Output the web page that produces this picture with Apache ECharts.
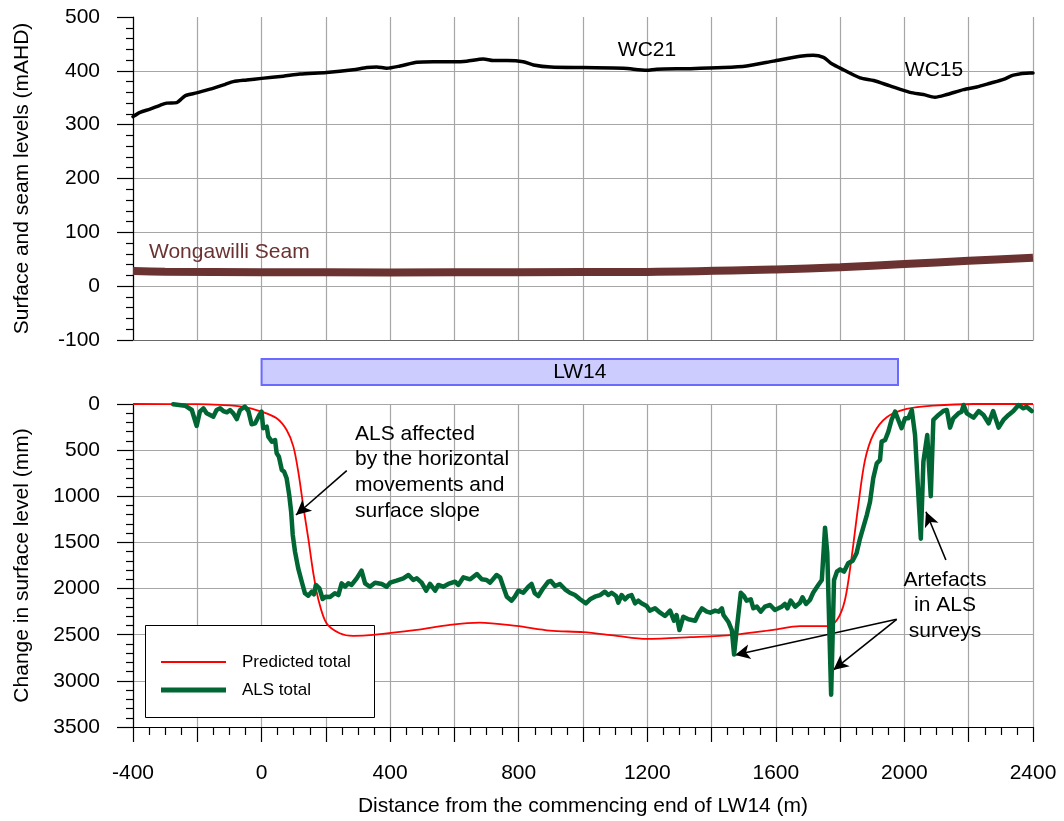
<!DOCTYPE html>
<html>
<head>
<meta charset="utf-8">
<script src="https://cdn.jsdelivr.net/npm/echarts@6/dist/echarts.min.js"></script>
<style>
  html, body { margin: 0; padding: 0; background: #fff; }
  #chart { width: 1064px; height: 821px; }
</style>
</head>
<body>
<div id="chart"></div>
<script>
// Surface profile along the LW14 centreline (distance m, level mAHD)
const surfaceProfile = [
  [-400,315],[-378,323],[-347,329],[-316,336],[-295,340],[-264,341],[-237,354],[-202,359],
  [-160,366],[-113,375],[-88,380],[-46,383],[0,386],[67,390],[119,394],[202,397],[285,402],
  [327,406],[358,407],[389,405],[431,409],[483,416],[535,417],[597,417],[638,418],[690,422],
  [721,419],[763,419],[814,417],[846,411],[900,407],[1001,406],[1126,405],[1198,401],
  [1229,403],[1334,404],[1437,406],[1509,409],[1592,418],[1675,427],[1716,429],[1748,425],
  [1774,413],[1810,402],[1862,387],[1904,382],[1955,372],[2017,360],[2059,356],[2095,351],
  [2132,356],[2184,365],[2225,370],[2267,377],[2308,384],[2339,392],[2391,396],[2400,396]
];

// Wongawilli Seam floor level (mAHD)
const seamProfile = [
  [-400,28],[-300,27],[0,26],[400,25.5],[800,26],[1200,26.5],[1600,31],[1800,35],
  [2000,41],[2200,47],[2400,53]
];

// Predicted total subsidence (mm)
const predictedTotal = [
  [-400,0],[-200,2],[-130,10],[-57,30],[0,83],[47,155],[78,282],[99,462],[115,751],
  [130,1112],[146,1473],[161,1834],[177,2123],[202,2376],[243,2484],[285,2513],[347,2502],
  [482,2448],[586,2394],[679,2369],[793,2405],[897,2455],[1001,2473],[1100,2510],
  [1198,2545],[1334,2527],[1467,2502],[1592,2448],[1675,2408],[1758,2408],[1789,2347],
  [1815,2123],[1836,1654],[1856,1112],[1877,614],[1904,325],[1945,144],[2007,54],
  [2090,18],[2215,0],[2400,0]
];

// Total subsidence measured by airborne laser scanning (mm)
const alsTotal = [
  [-275,3],[-238,18],[-217,65],[-202,238],[-192,83],[-181,47],[-171,101],[-150,137],
  [-140,65],[-129,47],[-119,76],[-108,90],[-98,65],[-88,101],[-77,163],[-67,65],[-52,29],
  [-41,76],[-31,220],[-20,209],[-7,119],[0,83],[5,263],[16,246],[21,354],[32,408],[42,390],
  [47,534],[54,571],[63,715],[70,733],[78,805],[86,986],[92,1167],[97,1419],[104,1600],
  [114,1781],[125,1926],[135,2051],[145,2077],[156,2034],[163,2062],[169,1961],[180,1997],
  [190,2113],[200,2088],[213,2092],[228,2051],[239,2070],[249,1943],[260,1980],[270,1943],
  [280,1961],[296,1889],[311,1806],[322,1943],[337,1980],[353,1936],[374,1950],[389,1980],
  [400,1936],[420,1914],[441,1889],[457,1853],[472,1907],[483,1889],[498,1936],[512,2023],
  [524,1950],[540,2023],[550,1961],[565,1980],[581,1950],[602,1925],[612,1961],[628,1878],
  [649,1900],[670,1842],[685,1900],[700,1907],[711,1936],[731,1853],[742,1878],[752,1980],
  [763,2088],[778,2131],[788,2088],[799,2023],[814,2045],[830,1980],[840,1950],[850,2051],
  [861,2081],[876,1997],[892,1925],[900,1918],[913,1972],[928,1950],[944,2008],[959,2045],
  [975,2070],[991,2116],[1009,2160],[1022,2116],[1037,2088],[1053,2070],[1068,2034],
  [1079,2070],[1089,2045],[1103,2081],[1110,2153],[1120,2070],[1131,2116],[1141,2081],
  [1151,2070],[1162,2160],[1172,2131],[1182,2160],[1198,2189],[1208,2239],[1224,2214],
  [1240,2261],[1255,2297],[1271,2239],[1283,2348],[1291,2286],[1300,2449],[1312,2305],
  [1328,2333],[1349,2348],[1359,2276],[1370,2214],[1385,2250],[1396,2261],[1411,2239],
  [1422,2250],[1432,2214],[1437,2286],[1452,2359],[1463,2449],[1470,2715],[1478,2449],
  [1491,2045],[1501,2081],[1509,2131],[1522,2116],[1530,2214],[1541,2196],[1553,2250],
  [1566,2196],[1582,2178],[1597,2232],[1608,2214],[1618,2196],[1628,2167],[1636,2214],
  [1646,2131],[1660,2196],[1675,2153],[1683,2095],[1694,2167],[1706,2124],[1716,2045],
  [1732,1961],[1743,1907],[1753,1340],[1760,1618],[1772,3150],[1781,1907],[1790,1817],
  [1800,1792],[1812,1817],[1825,1726],[1839,1698],[1851,1618],[1862,1455],[1883,1203],
  [1893,1059],[1903,805],[1914,643],[1924,607],[1929,408],[1940,390],[1950,300],[1960,173],
  [1971,83],[1981,173],[1991,263],[2002,155],[2012,155],[2023,65],[2033,336],[2041,841],
  [2051,1460],[2059,625],[2071,336],[2082,1000],[2090,173],[2106,119],[2121,76],[2132,65],
  [2142,256],[2152,155],[2168,101],[2178,83],[2184,11],[2194,101],[2215,148],[2231,76],
  [2246,119],[2262,209],[2276,76],[2293,256],[2308,173],[2324,119],[2339,76],[2355,11],
  [2370,47],[2380,29],[2396,76]
];

// Extent of longwall panel LW14 (m)
const panelName = 'LW14';
const panelExtent = [0, 1980];

// Axis ranges and tick steps
const distanceRange = [-400, 2400];
const distanceStep = 200;
const distanceLabelStep = 400;
const levelRange = [-100, 500];
const levelStep = 100;
const subsidenceRange = [0, 3500];
const subsidenceStep = 500;

// Annotation arrows on the subsidence plot: [from, to] in (distance, mm)
const annotationArrows = [
  [[265, 723], [107, 1203]],
  [[1976, 2333], [1473, 2720]],
  [[1976, 2333], [1779, 2882]],
  [[2129, 1690], [2067, 1167]]
];

const FONT = '"Liberation Sans", Arial, Helvetica, sans-serif';
const GRID_COLOR = '#a6a6a6';
const PRED_COLOR = '#ff0000';
const ALS_COLOR = '#006633';

const chart = echarts.init(document.getElementById('chart'), null, { renderer: 'canvas' });

const plotLeft = 133, plotRight = 31;

function distanceAxis(gridIndex, mode) {
  const full = mode === 'full';
  const hidden = mode === 'hidden';
  return {
    type: 'value', gridIndex,
    min: distanceRange[0], max: distanceRange[1], interval: distanceStep,
    axisLine: { show: !hidden, onZero: false, lineStyle: { color: full ? '#000' : '#6a6a6a', width: 1.2 } },
    axisTick: { show: full, inside: false, length: 15, lineStyle: { color: '#000', width: 1.2 } },
    minorTick: { show: full, splitNumber: 4, length: 8, lineStyle: { color: '#000', width: 1.2 } },
    axisLabel: {
      show: full, margin: 36, fontSize: 21, fontFamily: FONT, color: '#000',
      formatter: v => (v % distanceLabelStep === 0 ? String(v) : '')
    },
    splitLine: { show: !hidden, lineStyle: { color: GRID_COLOR, width: 1.2 } },
    name: full ? 'Distance from the commencing end of LW14 (m)' : '',
    nameLocation: 'middle', nameGap: 69,
    nameTextStyle: { fontSize: 21, fontFamily: FONT, color: '#000' }
  };
}

function valueAxis(gridIndex, range, step, inverse, name, showMaxLine) {
  return {
    type: 'value', gridIndex, inverse,
    min: range[0], max: range[1], interval: step,
    axisLine: { show: true, onZero: false, lineStyle: { color: '#000', width: 1.2 } },
    axisTick: { show: true, length: 16, lineStyle: { color: '#000', width: 1.2 } },
    minorTick: { show: true, splitNumber: 5, length: 7, lineStyle: { color: '#000', width: 1.2 } },
    axisLabel: { margin: 33, fontSize: 21, fontFamily: FONT, color: '#000', formatter: v => String(v) },
    splitLine: { show: true, showMaxLine, lineStyle: { color: GRID_COLOR, width: 1.2 } },
    name, nameLocation: 'middle', nameGap: 100,
    nameTextStyle: { fontSize: 21, fontFamily: FONT, color: '#000' }
  };
}

function legendEntry(name, top, thickness) {
  return {
    left: 161, top,
    orient: 'vertical',
    data: [{ name, icon: 'rect' }],
    itemWidth: 65, itemHeight: thickness,
    padding: 0, z: 20,
    textStyle: { fontSize: 17, fontFamily: FONT, color: '#000', lineHeight: 20, padding: [0, 0, 0, 11] },
    selectedMode: false
  };
}

const option = {
  backgroundColor: '#fff',
  animation: false,
  textStyle: { fontFamily: FONT },
  grid: [
    { left: plotLeft, right: plotRight, top: 17, height: 323 },
    { left: plotLeft, right: plotRight, top: 404, height: 323 },
    { left: plotLeft, right: plotRight, top: 359, height: 26 }
  ],
  xAxis: [
    distanceAxis(0, 'frame'),
    distanceAxis(1, 'full'),
    distanceAxis(2, 'hidden')
  ],
  yAxis: [
    valueAxis(0, levelRange, levelStep, false, 'Surface and seam levels (mAHD)', false),
    valueAxis(1, subsidenceRange, subsidenceStep, true, 'Change in surface level (mm)', true),
    { type: 'value', gridIndex: 2, min: 0, max: 1, show: false }
  ],
  legend: [
    legendEntry('Predicted total', 652, 2),
    legendEntry('ALS total', 680, 5)
  ],
  graphic: [
    // legend frame: covers the grid lines but sits beneath the data lines
    { type: 'rect', z: 1, shape: { x: 145.5, y: 625.5, width: 229, height: 92 },
      style: { fill: '#fff', stroke: '#000', lineWidth: 1 } },
    { type: 'text', x: 647, y: 50, z: 100, style: { text: 'WC21', font: '21px ' + FONT, fill: '#000', align: 'center', verticalAlign: 'middle' } },
    { type: 'text', x: 934, y: 70, z: 100, style: { text: 'WC15', font: '21px ' + FONT, fill: '#000', align: 'center', verticalAlign: 'middle' } },
    { type: 'text', x: 149, y: 252, z: 100, style: { text: 'Wongawilli Seam', font: '21px ' + FONT, fill: '#6b3232', align: 'left', verticalAlign: 'middle' } },
    { type: 'text', x: 355, y: 421, z: 100, style: { text: 'ALS affected\nby the horizontal\nmovements and\nsurface slope', font: '21px ' + FONT, lineHeight: 25.7, fill: '#000', align: 'left', verticalAlign: 'top' } },
    { type: 'text', x: 945, y: 567, z: 100, style: { text: 'Artefacts\nin ALS\nsurveys', font: '21px ' + FONT, lineHeight: 25.5, fill: '#000', align: 'center', verticalAlign: 'top' } }
  ],
  series: [
    {
      name: 'Surface', type: 'line', xAxisIndex: 0, yAxisIndex: 0,
      data: surfaceProfile, showSymbol: false, symbol: 'none', smooth: 0.25,
      lineStyle: { color: '#000', width: 3.5, cap: 'round', join: 'round' }, z: 5
    },
    {
      name: 'Wongawilli Seam', type: 'line', xAxisIndex: 0, yAxisIndex: 0,
      data: seamProfile, showSymbol: false, symbol: 'none', smooth: 0.3,
      lineStyle: { color: '#6b3232', width: 8, cap: 'butt' }, z: 4
    },
    {
      name: panelName, type: 'line', xAxisIndex: 2, yAxisIndex: 2, data: [],
      markArea: {
        silent: true,
        itemStyle: { color: '#ccccff', borderColor: '#6a6aff', borderWidth: 2 },
        label: { show: true, position: 'inside', fontSize: 21, fontFamily: FONT, color: '#000' },
        data: [[{ name: panelName, xAxis: panelExtent[0] }, { xAxis: panelExtent[1] }]]
      }
    },
    {
      name: 'Predicted total', type: 'line', xAxisIndex: 1, yAxisIndex: 1,
      data: predictedTotal, showSymbol: false, symbol: 'none', smooth: 0.3,
      lineStyle: { color: PRED_COLOR, width: 1.8 }, itemStyle: { color: PRED_COLOR }, z: 4
    },
    {
      name: 'ALS total', type: 'line', xAxisIndex: 1, yAxisIndex: 1,
      data: alsTotal, showSymbol: false, symbol: 'none',
      lineStyle: { color: ALS_COLOR, width: 4.5, join: 'round', cap: 'round' }, itemStyle: { color: ALS_COLOR }, z: 5
    },
    {
      name: 'annotations', type: 'line', xAxisIndex: 1, yAxisIndex: 1, data: [],
      markLine: {
        silent: true, animation: false,
        symbol: ['none', 'arrow'],
        symbolSize: [11, 15],
        label: { show: false },
        lineStyle: { color: '#000', width: 1.6, type: 'solid' },
        data: annotationArrows.map(a => [{ coord: a[0] }, { coord: a[1] }])
      },
      z: 10
    }
  ]
};

chart.setOption(option);
</script>
</body>
</html>
